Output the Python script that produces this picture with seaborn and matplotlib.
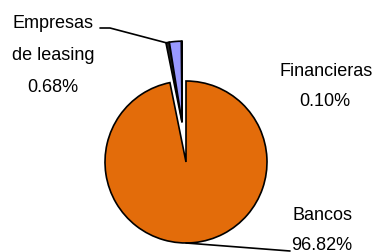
import matplotlib
matplotlib.use('Agg')
import matplotlib.pyplot as plt
import seaborn as sns
import numpy as np

# data
sectors = ['Bancos', 'Empresas de leasing', 'Otros', 'Financieras']
shares = [96.82, 0.68, 2.40, 0.10]
colors = ['#E36C0A', '#1E1E1E', '#9999FF', '#8C8C8C']

sns.set_style('white')
plt.rcParams['font.family'] = ['Liberation Sans', 'DejaVu Sans']

fig = plt.figure(figsize=(3.75, 2.52), dpi=100)
ax = fig.add_axes([0, 0, 1, 1])

cx, cy, r = 186, 90, 81
wedges, _ = ax.pie(shares, colors=colors, startangle=90, counterclock=False,
                   center=(cx, cy), radius=r, frame=True,
                   wedgeprops=dict(edgecolor='black', linewidth=1.2))

# pull the small slices out together, along the middle of their group
small = [w for w, s in zip(wedges, sectors) if s != 'Bancos']
a1 = min(w.theta1 for w in small)
a2 = max(w.theta2 for w in small)
mid = np.deg2rad((a1 + a2) / 2)
d = 40
for w in small:
    w.set_center((cx + d * np.cos(mid), cy + d * np.sin(mid)))

ax.set_xlim(0, 375)
ax.set_ylim(0, 252)
ax.set_aspect('equal')
ax.axis('off')

fs = 13
tk = dict(ha='center', va='center', fontsize=fs, color='black')
pct = dict(zip(sectors, shares))

# Empresas de leasing
ax.text(53, 252 - 24, 'Empresas', **tk)
ax.text(53, 252 - 56, 'de leasing', **tk)
ax.text(53, 252 - 88, f"{pct['Empresas de leasing']:.2f}%", **tk)
ax.plot([100, 110, 167], [252 - 28, 252 - 28, 252 - 43], color='black', lw=1.2)

# Financieras
ax.text(326, 252 - 71, 'Financieras', **tk)
ax.text(325, 252 - 101, f"{pct['Financieras']:.2f}%", **tk)

# Bancos
ax.text(322, 252 - 215, 'Bancos', **tk)
ax.text(322, 252 - 245, f"{pct['Bancos']:.2f}%", **tk)
ax.plot([186, 290], [252 - 243, 252 - 251], color='black', lw=1.2)

fig.savefig('out.png', dpi=100)
